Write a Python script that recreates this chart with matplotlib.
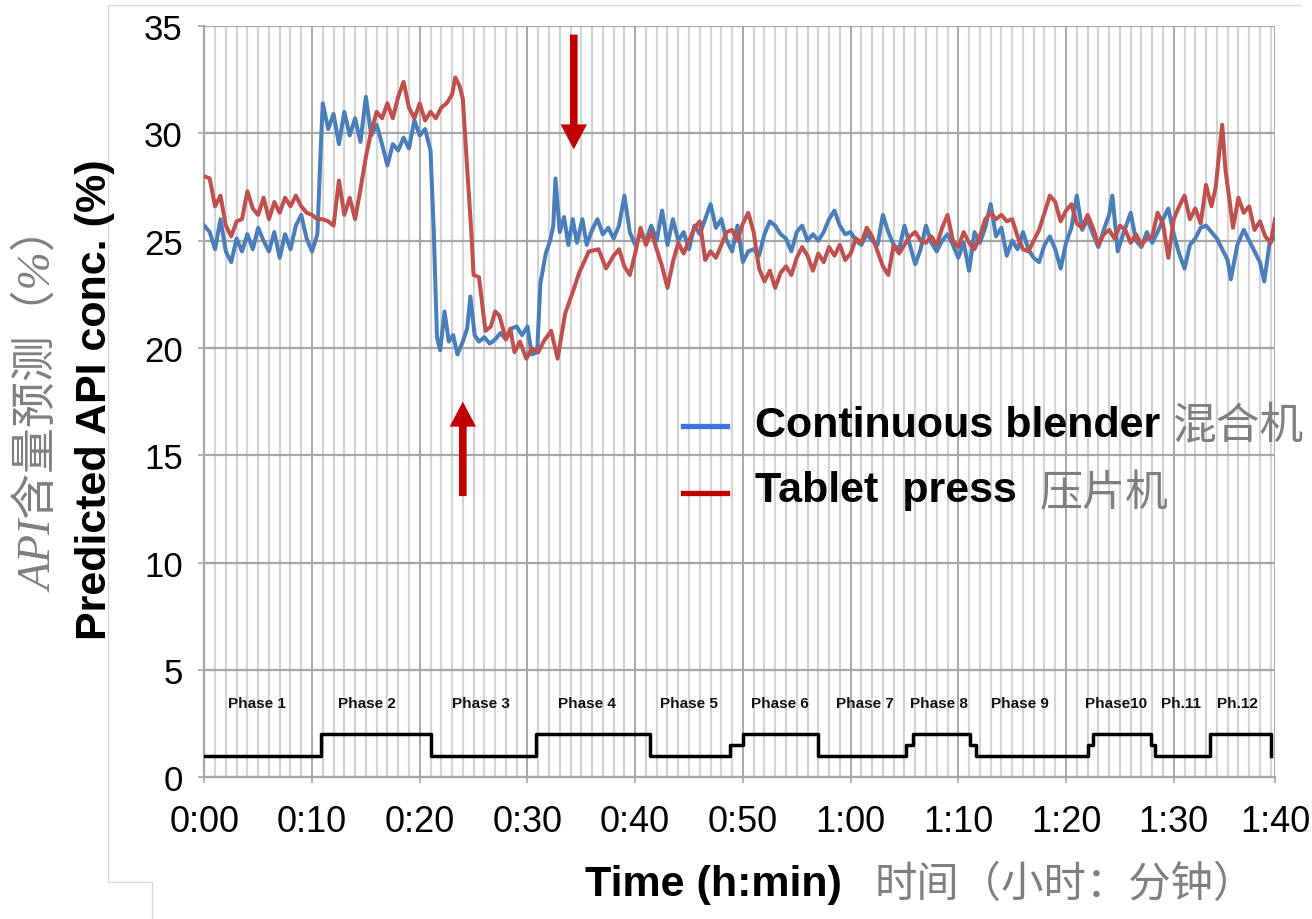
import matplotlib
matplotlib.use("Agg")
import matplotlib.pyplot as plt
from matplotlib.lines import Line2D
from matplotlib.ticker import MultipleLocator

plt.rcParams['font.family'] = ['Liberation Sans', 'Noto Sans CJK SC', 'DejaVu Sans']

# ---------------- data (minutes, % API) ----------------
blender_t = [0, 0.5, 1, 1.5, 2, 2.5, 3, 3.5, 4, 4.5, 5, 5.5, 6, 6.5, 7, 7.5, 8, 8.5, 9, 9.5,
             10, 10.5, 10.8, 11, 11.5, 12, 12.5, 13, 13.5, 14, 14.5, 15, 15.5, 16, 16.5, 17,
             17.5, 18, 18.5, 19, 19.5, 20, 20.5, 21.0, 21.3, 21.6, 21.9, 22.3, 22.7, 23.1,
             23.5, 24.0, 24.4, 24.7, 25.1, 25.5, 26.0, 26.5, 27.0, 27.5, 28.0, 28.5, 29.0,
             29.5, 30.0, 30.4, 30.9, 31.2, 31.7, 32.1, 32.4, 32.6, 33.0, 33.4, 33.8, 34.2,
             34.6, 35.1, 35.5, 36.0, 36.5, 37, 37.5, 38, 38.5, 39, 39.5, 40, 40.5, 41, 41.5,
             42, 42.5, 43, 43.5, 44, 44.5, 45, 45.5, 46, 46.5, 47, 47.5, 48, 48.5, 49, 49.5,
             50, 50.5, 51, 51.5, 52, 52.5, 53, 53.5, 54, 54.5, 55, 55.5, 56, 56.5, 57, 57.5,
             58, 58.5, 59, 59.5, 60, 60.5, 61, 61.5, 62, 62.5, 63, 63.5, 64, 64.5, 65, 65.5,
             66, 66.5, 67, 67.5, 68, 68.5, 69, 69.5, 70, 70.5, 71, 71.5, 72, 72.5, 73, 73.5,
             74, 74.5, 75, 75.5, 76, 76.5, 77, 77.5, 78, 78.5, 79, 79.5, 80, 80.5, 81, 81.5,
             82, 82.5, 83, 83.5, 84, 84.3, 84.8, 85.3, 86, 86.5, 87, 87.5, 88, 88.5, 89, 89.5,
             90, 90.5, 91, 91.5, 92, 92.5, 93, 93.5, 94, 94.5, 95, 95.3, 95.9, 96.5, 97, 97.5,
             98, 98.4, 98.9, 99.4]
blender_v = [25.7, 25.4, 24.6, 26.0, 24.5, 24.0, 25.1, 24.5, 25.3, 24.6, 25.6, 25.0, 24.5, 25.4,
             24.2, 25.3, 24.6, 25.7, 26.2, 25.1, 24.5, 25.3, 29.2, 31.4, 30.2, 30.9, 29.5, 31.0,
             29.9, 30.7, 29.6, 31.7, 29.9, 30.4, 29.5, 28.5, 29.5, 29.2, 29.8, 29.3, 30.6, 29.9,
             30.2, 29.2, 25.5, 20.5, 19.9, 21.7, 20.3, 20.6, 19.7, 20.3, 20.9, 22.4, 20.6, 20.3,
             20.5, 20.2, 20.4, 20.7, 20.4, 20.9, 21.0, 20.6, 21.0, 19.7, 19.8, 23.0, 24.4, 25.0,
             25.7, 27.9, 25.4, 26.1, 24.8, 26.0, 24.9, 26.0, 24.8, 25.5, 26.0, 25.3, 25.6, 25.1,
             25.7, 27.1, 25.4, 24.8, 25.3, 25.0, 25.7, 25.0, 26.4, 24.8, 26.0, 25.0, 25.4, 24.6,
             25.7, 25.3, 26.0, 26.7, 25.6, 26.0, 25.0, 24.5, 25.7, 24.0, 24.5, 24.6, 24.3, 25.3,
             25.9, 25.7, 25.3, 25.1, 24.5, 25.4, 25.7, 25.0, 25.3, 25.0, 25.4, 26.0, 26.4, 25.7,
             25.3, 25.4, 25.0, 24.8, 25.3, 25.0, 24.8, 26.2, 25.4, 24.8, 24.6, 25.7, 24.8, 23.9,
             24.6, 25.7, 24.9, 24.5, 25.0, 25.3, 24.8, 24.2, 24.9, 23.6, 25.4, 24.9, 25.6, 26.7,
             25.2, 25.6, 24.3, 25.0, 24.6, 25.4, 24.6, 24.2, 24.0, 24.8, 25.2, 24.6, 23.7, 24.9,
             25.6, 27.1, 25.5, 26.0, 25.3, 24.7, 25.5, 26.2, 27.1, 24.5, 25.3, 26.3, 25.0, 24.7,
             25.4, 24.9, 25.4, 26.0, 26.5, 25.3, 24.4, 23.7, 24.8, 25.1, 25.6, 25.7, 25.4, 25.1,
             24.6, 24.1, 23.2, 24.8, 25.5, 25.0, 24.5, 24.0, 23.1, 24.9, 25.2]

press_t = [0, 0.5, 1, 1.5, 2, 2.5, 3, 3.5, 4, 4.5, 5, 5.5, 6, 6.5, 7, 7.5, 8, 8.5, 9, 9.5, 10,
           10.5, 11, 11.5, 12, 12.5, 13, 13.5, 14, 14.5, 15, 15.5, 16, 16.5, 17, 17.5, 18, 18.5,
           19, 19.5, 20, 20.5, 21, 21.5, 22, 22.5, 23, 23.3, 23.7, 24.0, 24.3, 24.8, 25.0, 25.5,
           26.1, 26.6, 27.0, 27.4, 28.0, 28.4, 28.8, 29.3, 29.9, 30.4, 31.0, 31.5, 32.2, 32.8,
           33.5, 34.2, 34.8, 35.7, 36.6, 37.3, 38.0, 38.5, 39, 39.5, 40, 40.5, 41, 41.5, 42,
           42.5, 43, 43.5, 44, 44.5, 45, 45.5, 46, 46.5, 47, 47.5, 48, 48.5, 49, 49.5, 50, 50.5,
           51, 51.5, 52, 52.5, 53, 53.5, 54, 54.5, 55, 55.5, 56, 56.5, 57, 57.5, 58, 58.5, 59,
           59.5, 60, 60.5, 61, 61.5, 62, 62.5, 63, 63.5, 64, 64.5, 65, 65.5, 66, 66.5, 67, 67.5,
           68, 68.5, 69, 69.5, 70, 70.5, 71, 71.5, 72, 72.5, 73, 73.5, 74, 74.5, 75, 75.5, 76,
           76.5, 77, 77.5, 78, 78.5, 79, 79.5, 80, 80.5, 81, 81.5, 82, 82.5, 83, 83.5, 84, 84.5,
           85, 85.5, 86, 86.5, 87, 87.5, 88, 88.5, 89, 89.5, 90, 90.5, 91, 91.5, 92, 92.5, 93,
           93.5, 93.9, 94.2, 94.5, 94.8, 95.2, 95.5, 96, 96.5, 97, 97.5, 98, 98.5, 99, 99.4]
press_v = [28.0, 27.9, 26.6, 27.1, 25.7, 25.2, 25.9, 26.0, 27.3, 26.5, 26.2, 27.0, 26.0, 26.8,
           26.3, 27.0, 26.6, 27.1, 26.6, 26.3, 26.2, 26.0, 26.0, 25.9, 25.7, 27.8, 26.2, 27.0,
           26.0, 27.4, 28.9, 30.1, 31.0, 30.7, 31.4, 30.7, 31.7, 32.4, 31.2, 30.7, 31.4, 30.6,
           31.0, 30.7, 31.2, 31.4, 31.8, 32.6, 32.2, 31.6, 29.2, 25.3, 23.4, 23.3, 20.8, 21.0,
           21.7, 21.5, 20.4, 20.9, 19.8, 20.3, 19.5, 20.0, 19.8, 20.3, 20.8, 19.5, 21.6, 22.6,
           23.5, 24.5, 24.6, 23.7, 24.3, 24.6, 23.8, 23.4, 24.4, 25.6, 24.8, 25.4, 24.6, 23.8,
           22.8, 24.0, 24.9, 24.4, 25.0, 25.6, 25.9, 24.1, 24.5, 24.2, 24.8, 25.4, 25.5, 25.0,
           25.8, 26.3, 25.4, 23.7, 23.1, 23.6, 22.8, 23.5, 23.8, 23.4, 24.2, 24.7, 24.3, 23.6,
           24.4, 24.0, 24.7, 24.3, 24.8, 24.1, 24.4, 25.1, 24.9, 25.6, 25.2, 24.5, 23.8, 23.4,
           24.8, 24.4, 24.8, 25.2, 25.4, 25.0, 24.9, 25.2, 24.8, 25.6, 26.2, 25.0, 24.7, 25.4,
           24.9, 24.6, 25.2, 26.0, 26.3, 26.0, 26.2, 25.9, 26.0, 25.2, 24.6, 24.5, 25.0, 25.5,
           26.3, 27.1, 26.8, 25.9, 26.4, 26.7, 25.8, 25.6, 26.2, 25.6, 24.8, 25.3, 25.5, 25.1,
           25.7, 25.5, 24.9, 25.3, 24.8, 25.1, 25.2, 26.3, 25.8, 24.2, 26.0, 26.6, 27.1, 26.0,
           26.5, 25.8, 27.6, 26.6, 27.5, 29.0, 30.4, 28.3, 26.8, 25.6, 27.0, 26.3, 26.6, 25.5,
           25.9, 25.2, 24.9, 26.0]

# process-phase step signal
phase_t = [0, 10.8, 21.0, 30.8, 41.4, 48.8, 50.0, 57.0, 65.1, 65.8, 71.1, 71.6, 82.0, 82.5,
           87.9, 88.3, 93.4, 99.0]
phase_level = [1, 2, 1, 2, 1, 1.5, 2, 1, 1.5, 2, 1.5, 1, 1.5, 2, 1.5, 1, 2, 1]
phase_names = ['Phase 1', 'Phase 2', 'Phase 3', 'Phase 4', 'Phase 5', 'Phase 6', 'Phase 7',
               'Phase 8', 'Phase 9', 'Phase10', 'Ph.11', 'Ph.12']
phase_label_t = [4.9, 15.1, 25.7, 35.5, 45.0, 53.4, 61.3, 68.2, 75.7, 84.6, 90.7, 95.9]
phase_label_y = 3.45

y_ticks = [0, 5, 10, 15, 20, 25, 30, 35]
x_end = 99.4
x_tick_pos = [0, 10, 20, 30, 40, 50, 60, 70, 80, 90, x_end]
x_tick_labels = ['0:00', '0:10', '0:20', '0:30', '0:40', '0:50', '1:00', '1:10', '1:20',
                 '1:30', '1:40']

# arrows (time, start, end)
arrow_down = (34.3, 34.6, 29.25)
arrow_up = (24.0, 13.1, 17.5)

# ---------------- figure ----------------
W, H = 1312, 920
fig = plt.figure(figsize=(W / 100, H / 100), dpi=100)
fig.patch.set_facecolor('white')
ax = fig.add_axes([204.3 / W, 1 - 778.3 / H, (1275 - 204.3) / W, (778.3 - 27) / H])

blue = '#4a7ebb'
red = '#c0504d'
ax.plot(blender_t, blender_v, color=blue, lw=2.9, zorder=3, solid_joinstyle='round')
ax.plot(press_t, press_v, color=red, lw=2.9, zorder=4, solid_joinstyle='round')
ax.plot(phase_t, phase_level, color='black', lw=2.5, drawstyle='steps-post', zorder=3)

for name, t in zip(phase_names, phase_label_t):
    ax.text(t, phase_label_y, name, ha='center', va='center', fontsize=11,
            fontweight='bold', color='#111111', zorder=5)

arrow_kw = dict(facecolor='#c00000', edgecolor='none', width=5.5, headwidth=19,
                headlength=18, shrink=0)
ax.annotate('', xy=(arrow_down[0], arrow_down[2]), xytext=(arrow_down[0], arrow_down[1]),
            arrowprops=arrow_kw, zorder=6)
ax.annotate('', xy=(arrow_up[0], arrow_up[2]), xytext=(arrow_up[0], arrow_up[1]),
            arrowprops=arrow_kw, zorder=6)

ax.set_xlim(0, x_end)
ax.set_ylim(0, 35)
ax.set_yticks(y_ticks)
ax.set_yticklabels([str(v) for v in y_ticks])
ax.set_xticks(x_tick_pos)
ax.set_xticklabels(x_tick_labels)
ax.xaxis.set_minor_locator(MultipleLocator(1))

ax.grid(True, which='major', axis='y', color='#a6a6a6', lw=1.6, zorder=1)
ax.grid(True, which='major', axis='x', color='#9a9a9a', lw=1.2, zorder=1)
ax.grid(True, which='minor', axis='x', color='#d4d4d4', lw=1.6, zorder=0.9)
ax.set_axisbelow(True)

for s in ['top', 'right']:
    ax.spines[s].set_visible(False)
for s in ['left', 'bottom']:
    ax.spines[s].set_color('#a6a6a6')
    ax.spines[s].set_linewidth(1.6)

ax.tick_params(axis='y', which='major', direction='out', length=4.5, width=1.2,
               color='#a6a6a6', labelsize=25, pad=11)
ax.tick_params(axis='x', which='major', direction='out', length=4.5, width=1.2,
               color='#a6a6a6', labelsize=26, pad=15)
ax.tick_params(axis='x', which='minor', length=0)

# axis titles
gray = '#7f7f7f'
fig.text(95 / W, 1 - 400 / H, 'Predicted API conc. (%)', rotation=90, ha='center',
         va='center', fontsize=31, fontweight='bold', color='black')
fig.text(40 / W, 1 - 400 / H, 'API含量预测（%）', rotation=90, ha='center', va='center',
         fontsize=33, style='italic', color=gray,
         family=['Liberation Serif', 'Noto Sans CJK SC'])
fig.text(585 / W, 1 - 885 / H, 'Time (h:min)', ha='left', va='center', fontsize=31,
         fontweight='bold', color='black')
fig.text(875 / W, 1 - 885 / H, '时间（小时：分钟）', ha='left', va='center', fontsize=30.5,
         color=gray, style='italic', family=['Noto Sans CJK SC', 'DejaVu Sans'])

# legend (manual)
fig.add_artist(Line2D([683 / W, 727 / W], [1 - 427 / H, 1 - 427 / H],
                      color='#3f72e6', lw=3.8, transform=fig.transFigure))
fig.add_artist(Line2D([683 / W, 727 / W], [1 - 494 / H, 1 - 494 / H],
                      color='#c00000', lw=3.8, transform=fig.transFigure))
fig.text(755 / W, 1 - 426 / H, 'Continuous blender', ha='left', va='center', fontsize=31,
         fontweight='bold', color='black')
fig.text(1172 / W, 1 - 426 / H, '混合机', ha='left', va='center', fontsize=31.5,
         color=gray, style='italic', family=['Noto Sans CJK SC', 'DejaVu Sans'])
fig.text(755 / W, 1 - 491 / H, 'Tablet  press', ha='left', va='center', fontsize=31,
         fontweight='bold', color='black')
fig.text(1040 / W, 1 - 494 / H, '压片机', ha='left', va='center', fontsize=31,
         color=gray, style='italic', family=['Noto Sans CJK SC', 'DejaVu Sans'])

# faint frame lines of the original slide
frame_c = '#d9d9d9'
fig.add_artist(Line2D([108 / W, 1300 / W], [1 - 6 / H, 1 - 6 / H], color=frame_c, lw=1,
                      transform=fig.transFigure))
fig.add_artist(Line2D([108 / W, 108 / W, 152 / W, 152 / W],
                      [1 - 6 / H, 1 - 883 / H, 1 - 883 / H, 0], color=frame_c, lw=1,
                      transform=fig.transFigure))

fig.savefig('out.png', dpi=100, facecolor='white')
